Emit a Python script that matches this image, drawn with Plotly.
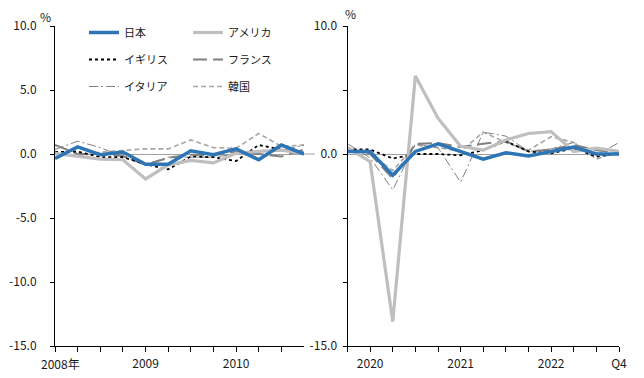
import plotly.graph_objects as go

# ---------------- data ----------------
left_periods = ["2008Q1", "2008Q2", "2008Q3", "2008Q4", "2009Q1", "2009Q2",
                "2009Q3", "2009Q4", "2010Q1", "2010Q2", "2010Q3", "2010Q4"]
right_periods = ["2019Q4", "2020Q1", "2020Q2", "2020Q3", "2020Q4", "2021Q1", "2021Q2",
                 "2021Q3", "2021Q4", "2022Q1", "2022Q2", "2022Q3", "2022Q4"]

left_tick_labels = {"2009Q1": "2009", "2010Q1": "2010"}
right_tick_labels = {"2020Q1": "2020", "2021Q1": "2021", "2022Q1": "2022", "2022Q4": "Q4"}

series_names = ["日本", "アメリカ", "イギリス", "フランス", "イタリア", "韓国"]

japan_l  = [-0.35, 0.55, -0.05, 0.15, -0.8, -0.8, 0.25, -0.05, 0.4, -0.45, 0.7, 0.0]
usa_l    = [0.05, -0.2, -0.4, -0.45, -1.95, -0.85, -0.5, -0.7, 0.05, 0.2, 0.3, 0.05]
uk_l     = [0.15, 0.2, -0.25, -0.25, -0.8, -1.2, -0.2, -0.25, -0.55, 0.7, 0.35, 0.1]
france_l = [0.7, 0.0, 0.0, -0.15, -0.85, -0.3, -0.05, -0.1, 0.2, 0.0, -0.2, 0.35]
italy_l  = [0.35, 1.0, 0.5, -0.2, -0.8, -0.25, -0.25, -0.25, 0.0, 0.25, 0.25, 0.7]
korea_l  = [0.0, -0.2, 0.15, 0.25, 0.4, 0.4, 1.1, 0.5, 0.45, 1.6, 0.6, 0.7]

japan_r  = [0.2, 0.2, -1.65, 0.2, 0.8, 0.2, -0.4, 0.1, -0.15, 0.2, 0.55, 0.0, 0.0]
usa_r    = [0.5, -0.6, -13.1, 6.1, 2.8, 0.6, 0.3, 1.1, 1.6, 1.75, 0.2, 0.45, 0.2]
uk_r     = [0.35, 0.35, -0.35, 0.0, 0.0, -0.1, 0.3, 1.0, 0.2, 0.05, 0.45, -0.2, 0.05]
france_r = [0.3, 0.0, -1.9, 0.8, 0.85, 0.55, 0.8, 1.0, 0.2, 0.35, 0.7, 0.3, 0.1]
italy_r  = [0.8, -0.3, -2.8, 0.8, 0.5, -2.2, 1.7, 1.4, 0.2, 0.4, 0.9, -0.1, 0.9]
korea_r  = [0.5, 0.0, -1.3, 0.7, 0.5, 0.2, 1.7, 0.9, 0.3, 1.35, 0.9, -0.4, 0.2]

y_tick_vals = [10, 5, 0, -5, -10, -15]
left_y_labels = ["10.0", "5.0", "0.0", "-5.0", "-10.0", "-15.0"]
right_y_labels = ["10.0", "", "0.0", "", "", "-15.0"]

# ---------------- styles ----------------
styles = {
    "日本":    dict(color="#2E75B6", width=3.5, dash="solid"),
    "アメリカ": dict(color="#BFBFBF", width=3.2, dash="solid"),
    "イギリス": dict(color="#000000", width=1.8, dash="dot"),
    "フランス": dict(color="#808080", width=2.0, dash="14px,6px"),
    "イタリア": dict(color="#808080", width=1.0, dash="9px,3px,2px,3px"),
    "韓国":    dict(color="#A6A6A6", width=1.6, dash="5px,3px"),
}
legend_of = {"日本": "legend", "イギリス": "legend", "イタリア": "legend",
             "アメリカ": "legend2", "フランス": "legend2", "韓国": "legend2"}

left_data = dict(zip(series_names, [japan_l, usa_l, uk_l, france_l, italy_l, korea_l]))
right_data = dict(zip(series_names, [japan_r, usa_r, uk_r, france_r, italy_r, korea_r]))

draw_order = ["韓国", "イタリア", "フランス", "イギリス", "アメリカ", "日本"]
legend_rank = {"日本": 1, "イギリス": 2, "イタリア": 3, "アメリカ": 1, "フランス": 2, "韓国": 3}

FONT = "Noto Sans CJK JP"

fig = go.Figure()
for name in draw_order:
    fig.add_trace(go.Scatter(
        x=left_periods, y=left_data[name], mode="lines", name=name,
        line=styles[name], xaxis="x", yaxis="y",
        legend=legend_of[name], legendgroup=name, legendrank=legend_rank[name],
        showlegend=True))
for name in draw_order:
    fig.add_trace(go.Scatter(
        x=right_periods, y=right_data[name], mode="lines", name=name,
        line=styles[name], xaxis="x2", yaxis="y2",
        legendgroup=name, showlegend=False))

W, H = 644, 378
ml, mr, mt, mb = 55, 25, 26, 32
pw = W - ml - mr
ph = H - mt - mb

def px_x(p):
    return (p - ml) / pw

def px_y(p):
    return (H - mb - p) / ph

left_dom = [0, px_x(304)]
right_dom = [px_x(347.5), 1]

axis_common = dict(showline=True, linecolor="#000000", linewidth=1, showgrid=False,
                   ticks="outside", ticklen=5, tickcolor="#000000", tickwidth=1,
                   tickfont=dict(family=FONT, size=12, color="#1a1a1a"))

fig.update_layout(
    width=W, height=H, margin=dict(l=ml, r=mr, t=mt, b=mb, autoexpand=False),
    paper_bgcolor="white", plot_bgcolor="white",
    font=dict(family=FONT, size=12, color="#1a1a1a"),
    xaxis=dict(domain=left_dom, type="category", range=[0, 11], zeroline=False,
               tickmode="array", tickvals=left_periods[:11],
               ticktext=[left_tick_labels.get(p, "") for p in left_periods[:11]],
               anchor="y", ticklabelstandoff=2, **axis_common),
    yaxis=dict(domain=[0, 1], range=[-15, 10], tickmode="array", tickvals=y_tick_vals,
               ticktext=left_y_labels, anchor="x", zeroline=True, zerolinecolor="#A0A0A0",
               zerolinewidth=1, ticklabelstandoff=11, **{**axis_common, "ticklen": 4}),
    xaxis2=dict(domain=right_dom, type="category", range=[0, 12], zeroline=False,
                tickmode="array", tickvals=right_periods,
                ticktext=[right_tick_labels.get(p, "") for p in right_periods],
                anchor="y2", ticklabelstandoff=2, **axis_common),
    yaxis2=dict(domain=[0, 1], range=[-15, 10], tickmode="array", tickvals=y_tick_vals,
                ticktext=right_y_labels, anchor="x2", zeroline=True, zerolinecolor="#A0A0A0",
                zerolinewidth=1, ticklabelstandoff=3, **{**axis_common, "ticklen": 4}),
    legend=dict(x=px_x(84), y=px_y(18), xanchor="left", yanchor="top",
                bgcolor="rgba(0,0,0,0)", font=dict(family=FONT, size=11, color="#1a1a1a"),
                tracegroupgap=8, traceorder="grouped", itemwidth=30),
    legend2=dict(x=px_x(188), y=px_y(18), xanchor="left", yanchor="top",
                 bgcolor="rgba(0,0,0,0)", font=dict(family=FONT, size=11, color="#1a1a1a"),
                 tracegroupgap=8, traceorder="grouped", itemwidth=30),
    showlegend=True,
)

# zero line of the left panel extends slightly past its axis
fig.add_shape(type="line", xref="paper", yref="y", x0=px_x(304), x1=px_x(315), y0=0, y1=0,
              line=dict(color="#A0A0A0", width=1))

annos = [
    dict(text="%", x=px_x(45), y=px_y(16)),
    dict(text="%", x=px_x(350), y=px_y(13)),
]
for a in annos:
    fig.add_annotation(xref="paper", yref="paper", showarrow=False, xanchor="center",
                       yanchor="middle", font=dict(family=FONT, size=12, color="#1a1a1a"), **a)
fig.add_annotation(xref="paper", yref="paper", showarrow=False, xanchor="left", yanchor="middle",
                   x=px_x(39), y=px_y(363), text="2008年",
                   font=dict(family=FONT, size=12, color="#1a1a1a"))

fig.write_html("out.html", config={"displayModeBar": False},
               post_script="document.body.style.margin='0';document.body.style.overflow='hidden';")
